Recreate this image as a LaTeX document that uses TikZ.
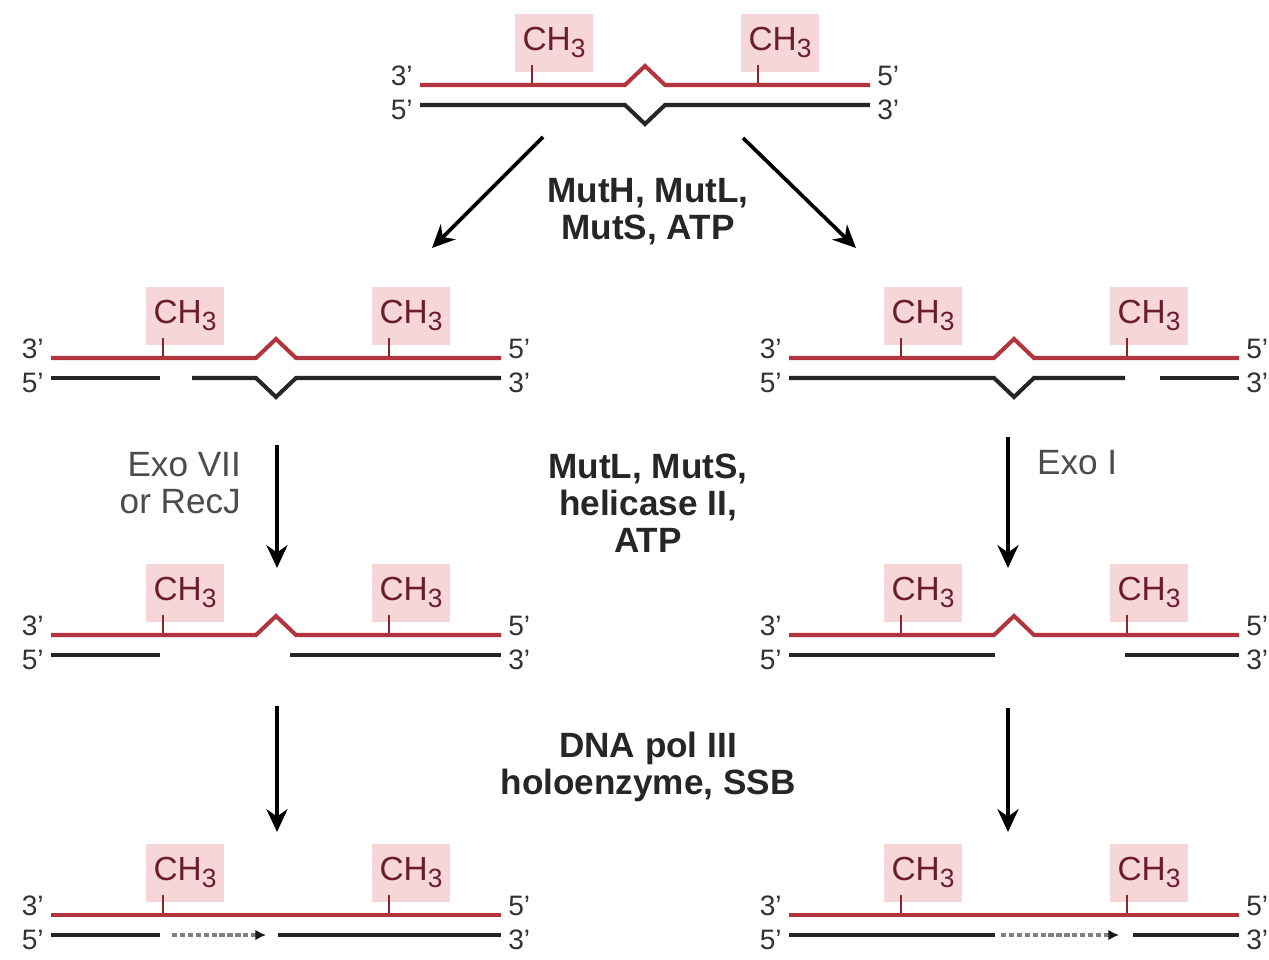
\documentclass[tikz,border=0pt]{standalone}
\usepackage{fontspec}
\setmainfont{Liberation Sans}
\usepackage{tikz}
\usetikzlibrary{arrows.meta,positioning}

\definecolor{strandred}{RGB}{178,52,60}
\definecolor{methylpink}{RGB}{247,214,217}
\definecolor{methyltext}{RGB}{105,30,42}

\newcommand{\methyl}{CH\raisebox{-0.4ex}{\fontsize{15}{15}\selectfont 3}}

\begin{document}
\begin{tikzpicture}[x=0.02cm, y=-0.02cm,
    parent/.style={line width=2.3pt, draw=strandred},
    daughter/.style={line width=2.3pt, draw=black!85},
    repair/.style={line width=1.8pt, draw=black!50, dash pattern=on 3pt off 1.5pt,
      -{Latex[length=6pt, width=6pt, black!90]}},
    tick/.style={line width=1.4pt, draw=strandred!75!black},
    methyl/.style={fill=methylpink, text=methyltext, inner sep=0pt,
      minimum width=44pt, minimum height=33pt, font=\fontsize{19}{19}\selectfont},
    prime/.style={font=\fontsize{16}{16}\selectfont, text=black!80, inner sep=0pt},
    enzyme/.style={font=\bfseries\fontsize{20}{21}\selectfont, align=center, text=black!85},
    exo/.style={font=\fontsize{20}{21}\selectfont, text=black!70},
    arrow/.style={-{Stealth[length=13pt, width=12pt]}, line width=2.1pt}]
    \fill[white] (0,0) rectangle (1269,960);
    \useasboundingbox (0,0) rectangle (1269,960);

    % methyl tags and end labels of every duplex
    \foreach \cx/\ry/\nm in {645/85/top, 276/358/nl, 1014/358/nr, 276/635/el,
        1014/635/er, 276/915/rl, 1014/915/rr} {
      \node[methyl, anchor=south west] (\nm-m1) at (\cx-130,\ry-13) {\methyl};
      \node[methyl, anchor=south west] (\nm-m2) at (\cx+96,\ry-13) {\methyl};
      \draw[tick] (\cx-113,\ry) -- (\cx-113,\ry-20);
      \draw[tick] (\cx+113,\ry) -- (\cx+113,\ry-20);
      \node[prime, anchor=east] (\nm-l3) at (\cx-232,\ry-9) {3'};
      \node[prime, anchor=east] (\nm-l5) at (\cx-232,\ry+25) {5'};
      \node[prime, anchor=west] (\nm-r5) at (\cx+232,\ry-9) {5'};
      \node[prime, anchor=west] (\nm-r3) at (\cx+232,\ry+25) {3'};
    }

    % parental (methylated) strands, mismatch bulge on the first three rows
    \foreach \cx/\ry in {645/85, 276/358, 1014/358, 276/635, 1014/635} {
      \draw[parent] (\cx-225,\ry) -- (\cx-20,\ry) -- (\cx,\ry-19)
        -- (\cx+20,\ry) -- (\cx+225,\ry);
    }
    \foreach \cx/\ry in {276/915, 1014/915} {
      \draw[parent] (\cx-225,\ry) -- (\cx+225,\ry);
    }

    % daughter strands
    \draw[daughter] (420,105) -- (625,105) -- (645,124) -- (665,105) -- (870,105);
    \draw[daughter] (51,378) -- (160,378);
    \draw[daughter] (192,378) -- (256,378) -- (276,397) -- (296,378) -- (501,378);
    \draw[daughter] (789,378) -- (994,378) -- (1014,397) -- (1034,378) -- (1125,378);
    \draw[daughter] (1160,378) -- (1239,378);
    \draw[daughter] (51,655) -- (160,655);
    \draw[daughter] (290,655) -- (501,655);
    \draw[daughter] (789,655) -- (995,655);
    \draw[daughter] (1125,655) -- (1239,655);
    \draw[daughter] (51,935) -- (160,935);
    \draw[repair] (172,935) -- (266,935);
    \draw[daughter] (278,935) -- (501,935);
    \draw[daughter] (789,935) -- (995,935);
    \draw[repair] (1001,935) -- (1119,935);
    \draw[daughter] (1133,935) -- (1239,935);

    % reaction arrows
    \coordinate (cut-ls) at (543,137);
    \coordinate (cut-le) at (432,248);
    \coordinate (cut-rs) at (743,138);
    \coordinate (cut-re) at (856,248);
    \coordinate (exo-ls) at (277,445);
    \coordinate (exo-le) at (277,568);
    \coordinate (exo-rs) at (1008,437);
    \coordinate (exo-re) at (1008,568);
    \coordinate (pol-ls) at (277,706);
    \coordinate (pol-le) at (277,832);
    \coordinate (pol-rs) at (1008,708);
    \coordinate (pol-re) at (1008,832);
    \draw[arrow] (cut-ls) -- (cut-le);
    \draw[arrow] (cut-rs) -- (cut-re);
    \draw[arrow] (exo-ls) -- (exo-le);
    \draw[arrow] (exo-rs) -- (exo-re);
    \draw[arrow] (pol-ls) -- (pol-le);
    \draw[arrow] (pol-rs) -- (pol-re);

    % enzymes
    \node[enzyme] (mutHLS) at (648,212) {MutH, MutL,\\MutS, ATP};
    \node[enzyme] (helicase) at (648,503) {MutL, MutS,\\helicase II,\\ATP};
    \node[enzyme] (polIII) at (648,767) {DNA pol III\\holoenzyme, SSB};
    \node[exo, align=right, anchor=east] (exoVII) at (247,483) {Exo VII\\or RecJ};
    \node[exo, anchor=west] (exoI) at (1031,463) {Exo I};
  \end{tikzpicture}
\end{document}
